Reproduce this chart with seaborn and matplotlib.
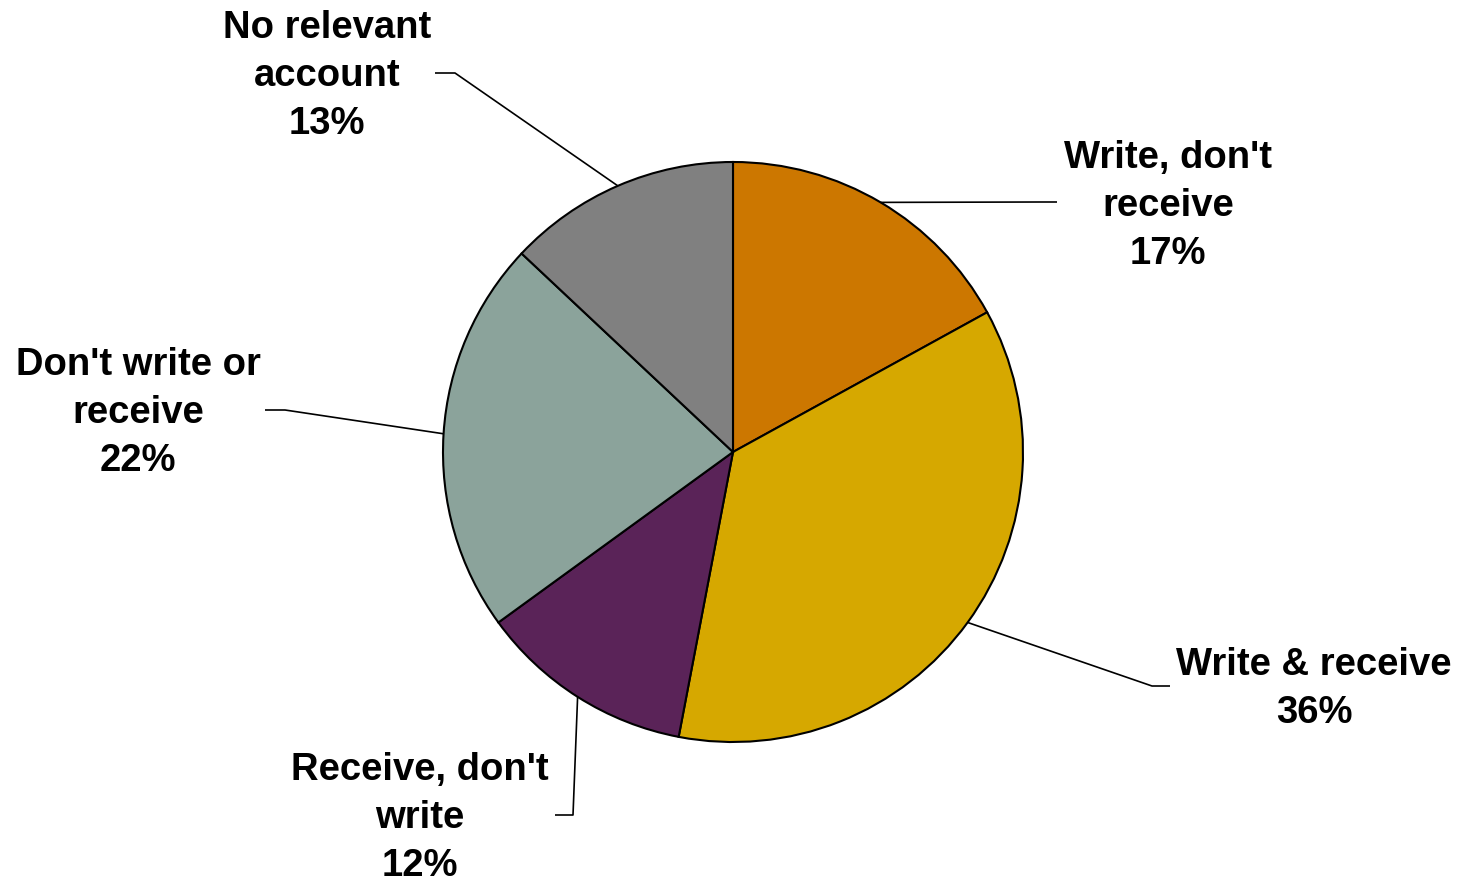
import numpy as np
import matplotlib
matplotlib.use("Agg")
import matplotlib.pyplot as plt
import seaborn as sns

sns.set_theme(style="white")
plt.rcParams["font.family"] = ["Liberation Sans", "DejaVu Sans"]

# Survey shares, clockwise from 12 o'clock
categories = ["Write, don't\nreceive", "Write & receive", "Receive, don't\nwrite",
              "Don't write or\nreceive", "No relevant\naccount"]
shares = [17, 36, 12, 22, 13]
colors = ["#CC7700", "#D6A800", "#5A2358", "#8BA39B", "#808080"]

# Label layout (figure pixel coordinates, y from top): text centre, elbow, tail end
label_xy = [(1168, 206), (1314, 689), (420, 818), (138, 413), (327, 76)]
elbow_xy = [(1040, 202), (1152, 686), (573, 815), (285, 410), (455, 73)]
tail_xy = [(1057, 202), (1170, 686), (555, 815), (265, 410), (435, 73)]

W, H = 1460, 882
fig = plt.figure(figsize=(W / 100, H / 100), dpi=100)
ax = fig.add_axes([0, 0, 1, 1])

cx, cy, r = 733, H - 452, 290
wedges, _ = ax.pie(shares, colors=colors, startangle=90, counterclock=False,
                   center=(cx, cy), radius=r, frame=True,
                   wedgeprops=dict(edgecolor="black", linewidth=1.5))
ax.set_xlim(0, W)
ax.set_ylim(0, H)
ax.set_aspect("equal")
ax.axis("off")

for w, cat, val, lab, elb, tail in zip(wedges, categories, shares, label_xy, elbow_xy, tail_xy):
    ang = np.deg2rad((w.theta1 + w.theta2) / 2)
    sx, sy = cx + r * np.cos(ang), cy + r * np.sin(ang)
    ax.plot([sx, elb[0], tail[0]], [sy, H - elb[1], H - tail[1]],
            color="black", linewidth=1.2, solid_capstyle="butt")
    ax.text(lab[0], H - lab[1], f"{cat}\n{val}%", ha="center", va="center",
            fontsize=27.5, fontweight="bold", color="black", linespacing=1.44)

fig.savefig("out.png", dpi=100, facecolor="white")
